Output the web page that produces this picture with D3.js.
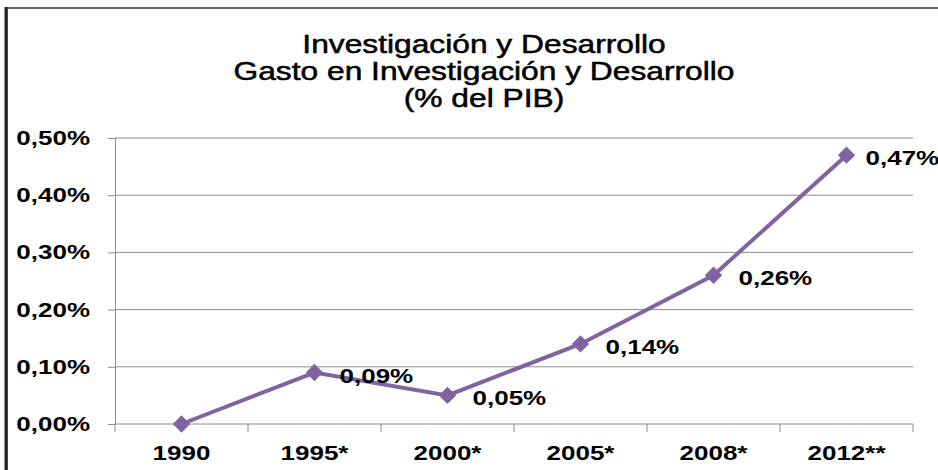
<!DOCTYPE html>
<html>
<head>
<meta charset="utf-8">
<script src="https://cdn.jsdelivr.net/npm/d3@7"></script>
<style>
  body { margin: 0; background: #fff; }
  text { font-family: "Liberation Sans", Arial, sans-serif; fill: #000; }
</style>
</head>
<body>
<script>
// datos del grafico
var years = ["1990", "1995*", "2000*", "2005*", "2008*", "2012**"];
var gasto = [0, 0.09, 0.05, 0.14, 0.26, 0.47];
var yTicks = [0, 0.1, 0.2, 0.3, 0.4, 0.5];
var titleLines = ["Investigación y Desarrollo", "Gasto en Investigación y Desarrollo", "(% del PIB)"];

var width = 938, height = 470;
var margin = {left: 115, right: 25, top: 138, bottom: 46};
var sx = 1.3; // texto ensanchado como en el original

var svg = d3.select("body").append("svg")
  .attr("width", width)
  .attr("height", height);

/* marco */
svg.append("rect")
  .attr("x", 7).attr("y", 8)
  .attr("width", 940).attr("height", 480)
  .attr("fill", "#fff")
  .attr("stroke", "#666")
  .attr("stroke-width", 2);
svg.append("line")
  .attr("x1", 6).attr("x2", 6)
  .attr("y1", 7).attr("y2", height)
  .attr("stroke", "#222")
  .attr("stroke-width", 3);

var x = d3.scaleBand()
  .domain(years)
  .range([margin.left, width - margin.right]);

var y = d3.scaleLinear()
  .domain([0, 0.5])
  .range([height - margin.bottom, margin.top]);

var fmt = function(v) { return d3.format(".2f")(v).replace(".", ",") + "%"; };

/* titulo */
svg.append("g").selectAll("text")
  .data(titleLines)
  .enter().append("text")
  .attr("transform", function(d, i) { return "translate(484," + (53 + i * 27) + ") scale(1.27,1)"; })
  .attr("text-anchor", "middle")
  .style("font-size", "25px")
  .attr("stroke", "#000")
  .attr("stroke-width", 0.5)
  .text(function(d) { return d; });

/* grid */
svg.append("g")
  .selectAll("line")
  .data(yTicks.slice(1))
  .enter().append("line")
  .attr("x1", margin.left).attr("x2", width - margin.right)
  .attr("y1", function(d) { return y(d); })
  .attr("y2", function(d) { return y(d); })
  .attr("stroke", "#8c8c8c")
  .attr("stroke-width", 1);

/* eje y */
var yAxis = svg.append("g")
  .attr("transform", "translate(" + margin.left + ",0)")
  .call(d3.axisLeft(y).tickValues(yTicks).tickSize(7).tickFormat(fmt));
yAxis.select(".domain").attr("stroke", "#8c8c8c");
yAxis.selectAll(".tick line").attr("stroke", "#8c8c8c");
yAxis.selectAll("text")
  .attr("x", -25 / sx)
  .attr("transform", "scale(" + sx + ",1)")
  .style("font-size", "20px")
  .style("font-weight", "bold")
  .attr("font-family", null);

/* eje x: ticks entre categorias */
var xAxis = svg.append("g")
  .attr("transform", "translate(0," + y(0) + ")");
xAxis.append("line")
  .attr("x1", margin.left).attr("x2", width - margin.right)
  .attr("stroke", "#8c8c8c");
xAxis.selectAll("line.tk")
  .data(years.concat(["end"]))
  .enter().append("line")
  .attr("class", "tk")
  .attr("x1", function(d, i) { return i < years.length ? x(d) : x(years[years.length - 1]) + x.bandwidth(); })
  .attr("x2", function(d, i) { return i < years.length ? x(d) : x(years[years.length - 1]) + x.bandwidth(); })
  .attr("y1", 0).attr("y2", 8)
  .attr("stroke", "#8c8c8c");
xAxis.selectAll("text")
  .data(years)
  .enter().append("text")
  .attr("transform", function(d) { return "translate(" + (x(d) + x.bandwidth() / 2) + ",36) scale(" + sx + ",1)"; })
  .attr("text-anchor", "middle")
  .style("font-size", "20px")
  .style("font-weight", "bold")
  .text(function(d) { return d; });

/* linea */
var pts = years.map(function(d, i) { return {year: d, v: gasto[i]}; });
var cx = function(d) { return x(d.year) + x.bandwidth() / 2; };

svg.append("path")
  .datum(pts)
  .attr("fill", "none")
  .attr("stroke", "#8064a2")
  .attr("stroke-width", 4)
  .attr("d", d3.line().x(cx).y(function(d) { return y(d.v); }));

svg.append("g").selectAll("path")
  .data(pts)
  .enter().append("path")
  .attr("d", d3.symbol().type(d3.symbolSquare).size(150))
  .attr("transform", function(d) { return "translate(" + cx(d) + "," + y(d.v) + ") rotate(45)"; })
  .attr("fill", "#8064a2");

/* etiquetas */
svg.append("g").selectAll("text")
  .data(pts.slice(1))
  .enter().append("text")
  .attr("transform", function(d, i) {
    var dx = i === 4 ? 19 : 25;
    return "translate(" + (cx(d) + dx) + "," + (y(d.v) + 10) + ") scale(" + sx + ",1)";
  })
  .style("font-size", "20px")
  .style("font-weight", "bold")
  .text(function(d) { return fmt(d.v); });
</script>
</body>
</html>
